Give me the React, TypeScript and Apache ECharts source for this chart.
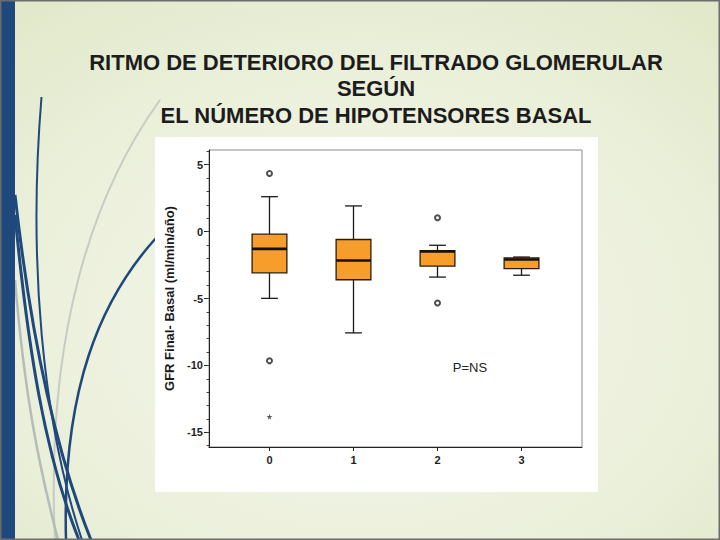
import React, { useEffect, useRef } from "react";
import * as echarts from "echarts";

// ---- data ----
const categories = [0, 1, 2, 3];
const lowWhisker = [-4.99, -7.57, -3.4, -3.26];
const q1 = [-3.08, -3.6, -2.58, -2.76];
const median = [-1.29, -2.16, -1.49, -2.08];
const q3 = [-0.19, -0.59, -1.42, -1.97];
const highWhisker = [2.61, 1.92, -1.02, -1.9];
const outlierX = [0, 0, 2, 2];
const outlierY = [4.35, -9.66, 1.04, -5.34];
const extremeX = [0];
const extremeY = [-13.83];
const yTickLabels = [-15, -10, -5, 0, 5];
const yMinorTicks = [-16, -15, -14, -13, -12, -11, -10, -9, -8, -7, -6, -5, -4, -3, -2, -1, 0, 1, 2, 3, 4, 5, 6];
const titleLines = [
  "RITMO DE DETERIORO DEL FILTRADO GLOMERULAR",
  "SEGÚN",
  "EL NÚMERO DE HIPOTENSORES BASAL",
];
const yAxisName = "GFR Final- Basal (ml/min/año)";
const note = "P=NS";

const FONT = "'Liberation Sans', Arial, sans-serif";

export default function App() {
  const ref = useRef<HTMLDivElement>(null);
  useEffect(() => {
    if (!ref.current) return;
    const chart = echarts.init(ref.current, null, { renderer: "svg" });

    const boxData = categories.map((c, i) => [c, lowWhisker[i], q1[i], median[i], q3[i], highWhisker[i]]);
    const outliers = outlierX.map((x, i) => [x, outlierY[i]]);
    const extremes = extremeX.map((x, i) => [x, extremeY[i]]);

    const curve = (x1: number, y1: number, c1x: number, c1y: number, c2x: number, c2y: number, x2: number, y2: number, color: string, w: number) => ({
      type: "bezierCurve",
      z: -5,
      silent: true,
      shape: { x1, y1, cpx1: c1x, cpy1: c1y, cpx2: c2x, cpy2: c2y, x2, y2 },
      style: { stroke: color, lineWidth: w, fill: null },
    });

    chart.setOption({
      animation: false,
      graphic: {
        elements: [
          {
            type: "rect",
            z: -10,
            silent: true,
            shape: { x: 0, y: 0, width: 720, height: 540 },
            style: {
              fill: new echarts.graphic.RadialGradient(0.5, 0.6, 0.85, [
                { offset: 0, color: "#f5f7ec" },
                { offset: 0.6, color: "#eaefd9" },
                { offset: 1, color: "#dde6c3" },
              ]),
            },
          },
          curve(160, 100, 95, 190, 45, 330, 55, 540, "#c6ccc2", 2),
          curve(15, 280, 25, 400, 40, 470, 58, 540, "#b3bcb8", 2.5),
          curve(41.5, 97, 28, 260, 42, 420, 82, 540, "#1f497d", 2),
          curve(15, 195, 30, 330, 55, 450, 91, 540, "#1f497d", 3),
          curve(15, 215, 28, 350, 45, 455, 79, 540, "#1f497d", 3),
          curve(156, 238, 100, 300, 62, 390, 66, 540, "#1f497d", 2.5),
          {
            type: "rect",
            z: -4,
            silent: true,
            shape: { x: 0, y: 0, width: 15, height: 540 },
            style: { fill: "#1f497d" },
          },
          {
            type: "rect",
            z: -3,
            silent: true,
            shape: { x: 0.75, y: 0.75, width: 718.5, height: 538.5 },
            style: { fill: null, stroke: "#6c6c6c", lineWidth: 1.5 },
          },
          {
            type: "rect",
            z: -3,
            silent: true,
            shape: { x: 155, y: 137, width: 443, height: 355 },
            style: { fill: "#ffffff" },
          },
          {
            type: "text",
            z: 5,
            x: 376,
            y: 49,
            style: {
              text: titleLines.join("\n"),
              align: "center",
              verticalAlign: "top",
              font: `bold 22px ${FONT}`,
              lineHeight: 26.5,
              fill: "#1c1c1c",
            },
          },
          {
            type: "text",
            z: 5,
            x: 470,
            y: 367,
            style: {
              text: note,
              align: "center",
              verticalAlign: "middle",
              font: `13px ${FONT}`,
              fill: "#222",
            },
          },
        ],
      },
      grid: {
        left: 209,
        top: 150,
        right: 138,
        bottom: 93,
        show: true,
        borderColor: "#8a8a8a",
        borderWidth: 1,
        backgroundColor: "transparent",
      },
      xAxis: {
        type: "value",
        min: -0.72,
        max: 3.72,
        splitLine: { show: false },
        axisLine: { show: true, onZero: false, lineStyle: { color: "#222", width: 1 } },
        axisTick: { show: true, customValues: categories, length: 4, inside: false, lineStyle: { color: "#222" } },
        axisLabel: {
          customValues: categories,
          margin: 7,
          fontSize: 11,
          fontWeight: "bold",
          fontFamily: FONT,
          color: "#222",
        },
      },
      yAxis: [
        {
          type: "value",
          min: -16.1,
          max: 6.1,
          splitLine: { show: false },
          axisLine: { show: true, onZero: false, lineStyle: { color: "#222", width: 1 } },
          axisTick: { show: true, customValues: yTickLabels, length: 5, lineStyle: { color: "#222" } },
          axisLabel: {
            customValues: yTickLabels,
            margin: 6,
            fontSize: 11,
            fontWeight: "bold",
            fontFamily: FONT,
            color: "#222",
          },
          name: yAxisName,
          nameLocation: "middle",
          nameRotate: 90,
          nameGap: 25,
          nameTextStyle: { fontSize: 13, fontWeight: "bold", fontFamily: FONT, color: "#1a1a1a" },
        },
        {
          type: "value",
          min: -16.1,
          max: 6.1,
          position: "left",
          offset: 0,
          splitLine: { show: false },
          axisLine: { show: false, onZero: false },
          axisLabel: { show: false },
          axisTick: { show: true, customValues: yMinorTicks, length: 2.5, lineStyle: { color: "#444" } },
        },
      ],
      series: [
        {
          type: "custom",
          xAxisIndex: 0,
          yAxisIndex: 0,
          encode: { x: 0, y: [1, 2, 3, 4, 5] },
          data: boxData,
          renderItem: (params: any, api: any) => {
            const x = api.value(0);
            const unit = api.size([1, 0])[0];
            const bw = unit * 0.414;
            const cw = unit * 0.2;
            const pLow = api.coord([x, api.value(1)]);
            const pQ1 = api.coord([x, api.value(2)]);
            const pMed = api.coord([x, api.value(3)]);
            const pQ3 = api.coord([x, api.value(4)]);
            const pHigh = api.coord([x, api.value(5)]);
            const cx = pMed[0];
            const lineStyle = { stroke: "#1a1a1a", lineWidth: 1.3 };
            return {
              type: "group",
              children: [
                { type: "line", shape: { x1: cx, y1: pHigh[1], x2: cx, y2: pQ3[1] }, style: lineStyle },
                { type: "line", shape: { x1: cx, y1: pQ1[1], x2: cx, y2: pLow[1] }, style: lineStyle },
                { type: "line", shape: { x1: cx - cw / 2, y1: pHigh[1], x2: cx + cw / 2, y2: pHigh[1] }, style: lineStyle },
                { type: "line", shape: { x1: cx - cw / 2, y1: pLow[1], x2: cx + cw / 2, y2: pLow[1] }, style: lineStyle },
                {
                  type: "rect",
                  shape: { x: cx - bw / 2, y: pQ3[1], width: bw, height: pQ1[1] - pQ3[1] },
                  style: { fill: "#f79d2c", stroke: "#2a1c08", lineWidth: 1.3 },
                },
                {
                  type: "line",
                  shape: { x1: cx - bw / 2, y1: pMed[1], x2: cx + bw / 2, y2: pMed[1] },
                  style: { stroke: "#111", lineWidth: 2.6 },
                },
              ],
            };
          },
        },
        {
          type: "scatter",
          data: outliers,
          symbol: "emptyCircle",
          symbolSize: 5,
          itemStyle: { color: "#222", borderWidth: 0.9 },
        },
        {
          type: "scatter",
          data: extremes,
          symbol: "path://M50,0 L61,35 L98,35 L68,57 L79,91 L50,70 L21,91 L32,57 L2,35 L39,35 Z",
          symbolSize: 6,
          itemStyle: { color: "#333" },
        },
      ],
    });
    return () => chart.dispose();
  }, []);
  return (
    <div
      ref={ref}
      style={{ position: "absolute", left: 0, top: 0, width: 720, height: 540 }}
    />
  );
}
